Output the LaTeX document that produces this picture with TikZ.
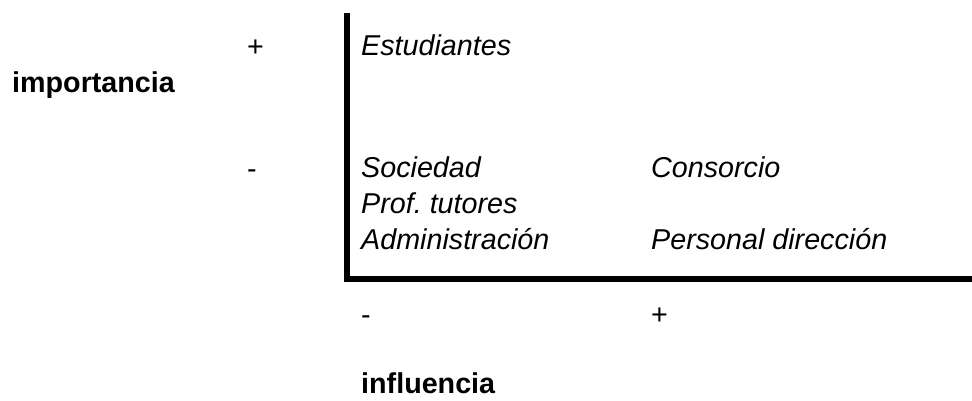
\documentclass[tikz,border=0pt]{standalone}
\usepackage{fontspec}
\setmainfont{Liberation Sans}
\frenchspacing
\begin{document}
\begin{tikzpicture}[x=1pt,y=-1pt,
  txt/.style={inner sep=0pt, anchor=base west, font=\fontsize{28.7}{34}\selectfont},
  itxt/.style={txt, font=\fontsize{28.7}{34}\selectfont\itshape},
  btxt/.style={txt, font=\fontsize{28.7}{34}\selectfont\bfseries},
  axisline/.style={line width=6pt, line cap=butt}]
\useasboundingbox (0,0) rectangle (972,400);
% axes
\coordinate (vtop) at (347,13);
\coordinate (corner) at (347,282);
\coordinate (hstart) at (344,279);
\coordinate (hend) at (972,279);
\draw[axisline] (vtop) -- (corner);
\draw[axisline] (hstart) -- (hend);
% axis labels
\node[btxt] (imp) at (12,92) {importancia};
\node[txt] (pplus) at (247,56) {+};
\node[txt] (pminus) at (247,178) {-};
\node[txt] (iminus) at (361,324) {-};
\node[txt] (iplus) at (651,324) {+};
\node[btxt] (inf) at (361,393) {influencia};
% stakeholders
\node[itxt] (est) at (361,55) {Estudiantes};
\node[itxt] (soc) at (361,177) {Sociedad};
\node[itxt] (prof) at (361,213) {Prof. tutores};
\node[itxt] (adm) at (361,249) {Administración};
\node[itxt] (cons) at (651,177) {Consorcio};
\node[itxt] (pers) at (651,249) {Personal dirección};
\end{tikzpicture}
\end{document}
